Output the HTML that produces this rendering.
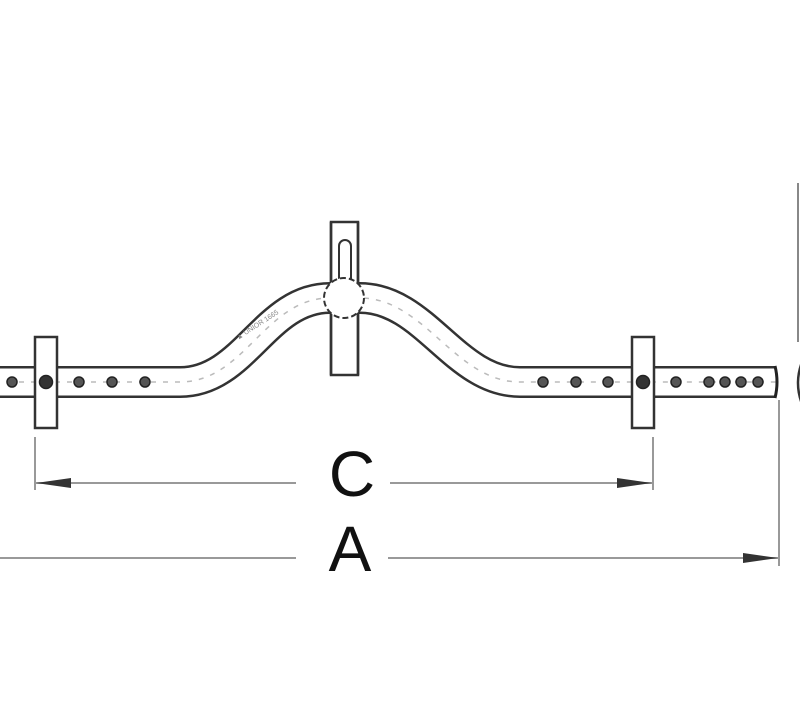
<!DOCTYPE html>
<html><head><style>html,body{margin:0;padding:0;background:#fff;}svg{display:block}</style></head>
<body>
<svg width="800" height="709" viewBox="0 0 800 709" xmlns="http://www.w3.org/2000/svg">
<defs>
<marker id="ar" markerWidth="36" markerHeight="12" refX="35" refY="6" orient="auto" markerUnits="userSpaceOnUse">
<path d="M0,1 L35,6 L0,11 Z" fill="#333"/>
</marker>
</defs>
<!-- central rect -->
<rect x="331" y="222" width="27" height="153" fill="#fff" stroke="#333" stroke-width="2.5"/>
<rect x="339" y="240" width="12" height="45" rx="6" fill="#fff" stroke="#333" stroke-width="2"/>
<!-- tube -->
<path d="M-5,382 L180,382 C245,382 265,298 330,298 L360,298 C425,298 455,382 520,382 L776,382" fill="none" stroke="#333" stroke-width="32"/>
<path d="M-5,382 L180,382 C245,382 265,298 330,298 L360,298 C425,298 455,382 520,382 L776,382" fill="none" stroke="#fff" stroke-width="27"/>
<path d="M-5,382 L180,382 C245,382 265,298 330,298 L360,298 C425,298 455,382 520,382 L776,382" fill="none" stroke="#bbb" stroke-width="1.5" stroke-dasharray="5,7"/>
<path d="M775,366 Q779,382 775,398" fill="none" stroke="#222" stroke-width="3"/>
<!-- redraw center rect lower part over tube edge -->
<line x1="331" y1="312" x2="331" y2="375" stroke="#333" stroke-width="2.5"/>
<line x1="358" y1="312" x2="358" y2="375" stroke="#333" stroke-width="2.5"/>
<line x1="331" y1="222" x2="331" y2="284" stroke="#333" stroke-width="2.5"/>
<line x1="358" y1="222" x2="358" y2="284" stroke="#333" stroke-width="2.5"/>
<circle cx="344" cy="298" r="20" fill="#fff" stroke="#333" stroke-width="2" stroke-dasharray="6,3"/>
<!-- flanges -->
<rect x="35" y="337" width="22" height="91" fill="#fff" stroke="#333" stroke-width="2.5"/>
<rect x="632" y="337" width="22" height="91" fill="#fff" stroke="#333" stroke-width="2.5"/>
<!-- holes -->
<g fill="#555" stroke="#222" stroke-width="1.5">
<circle cx="12" cy="382" r="5"/><circle cx="46" cy="382" r="6.5" fill="#333"/><circle cx="79" cy="382" r="5"/><circle cx="112" cy="382" r="5"/><circle cx="145" cy="382" r="5"/>
<circle cx="543" cy="382" r="5"/><circle cx="576" cy="382" r="5"/><circle cx="608" cy="382" r="5"/><circle cx="643" cy="382" r="6.5" fill="#333"/><circle cx="676" cy="382" r="5"/><circle cx="709" cy="382" r="5"/><circle cx="725" cy="382" r="5"/><circle cx="741" cy="382" r="5"/><circle cx="758" cy="382" r="5"/>
</g>
<!-- text on tube -->
<text x="0" y="0" transform="translate(238,340) rotate(-33)" font-family="Liberation Sans, sans-serif" font-size="7" fill="#888">▲ UNIOR 1665</text>
<!-- right edge items -->
<line x1="798" y1="183" x2="798" y2="342" stroke="#888" stroke-width="2"/>
<path d="M802,362 Q794,383 802,404" fill="none" stroke="#333" stroke-width="2.5"/>
<!-- dimension C -->
<line x1="35" y1="437" x2="35" y2="490" stroke="#999" stroke-width="2"/>
<line x1="653" y1="437" x2="653" y2="490" stroke="#999" stroke-width="2"/>
<line x1="296" y1="483" x2="36" y2="483" stroke="#999" stroke-width="2" marker-end="url(#ar)"/>
<line x1="390" y1="483" x2="652" y2="483" stroke="#999" stroke-width="2" marker-end="url(#ar)"/>
<text x="352" y="496" text-anchor="middle" font-family="Liberation Sans, sans-serif" font-size="64" fill="#111">C</text>
<!-- dimension A -->
<line x1="779" y1="400" x2="779" y2="566" stroke="#999" stroke-width="2"/>
<line x1="0" y1="558" x2="296" y2="558" stroke="#999" stroke-width="2"/>
<line x1="388" y1="558" x2="778" y2="558" stroke="#999" stroke-width="2" marker-end="url(#ar)"/>
<text x="350" y="571" text-anchor="middle" font-family="Liberation Sans, sans-serif" font-size="64" fill="#111">A</text>
</svg>
</body></html>
